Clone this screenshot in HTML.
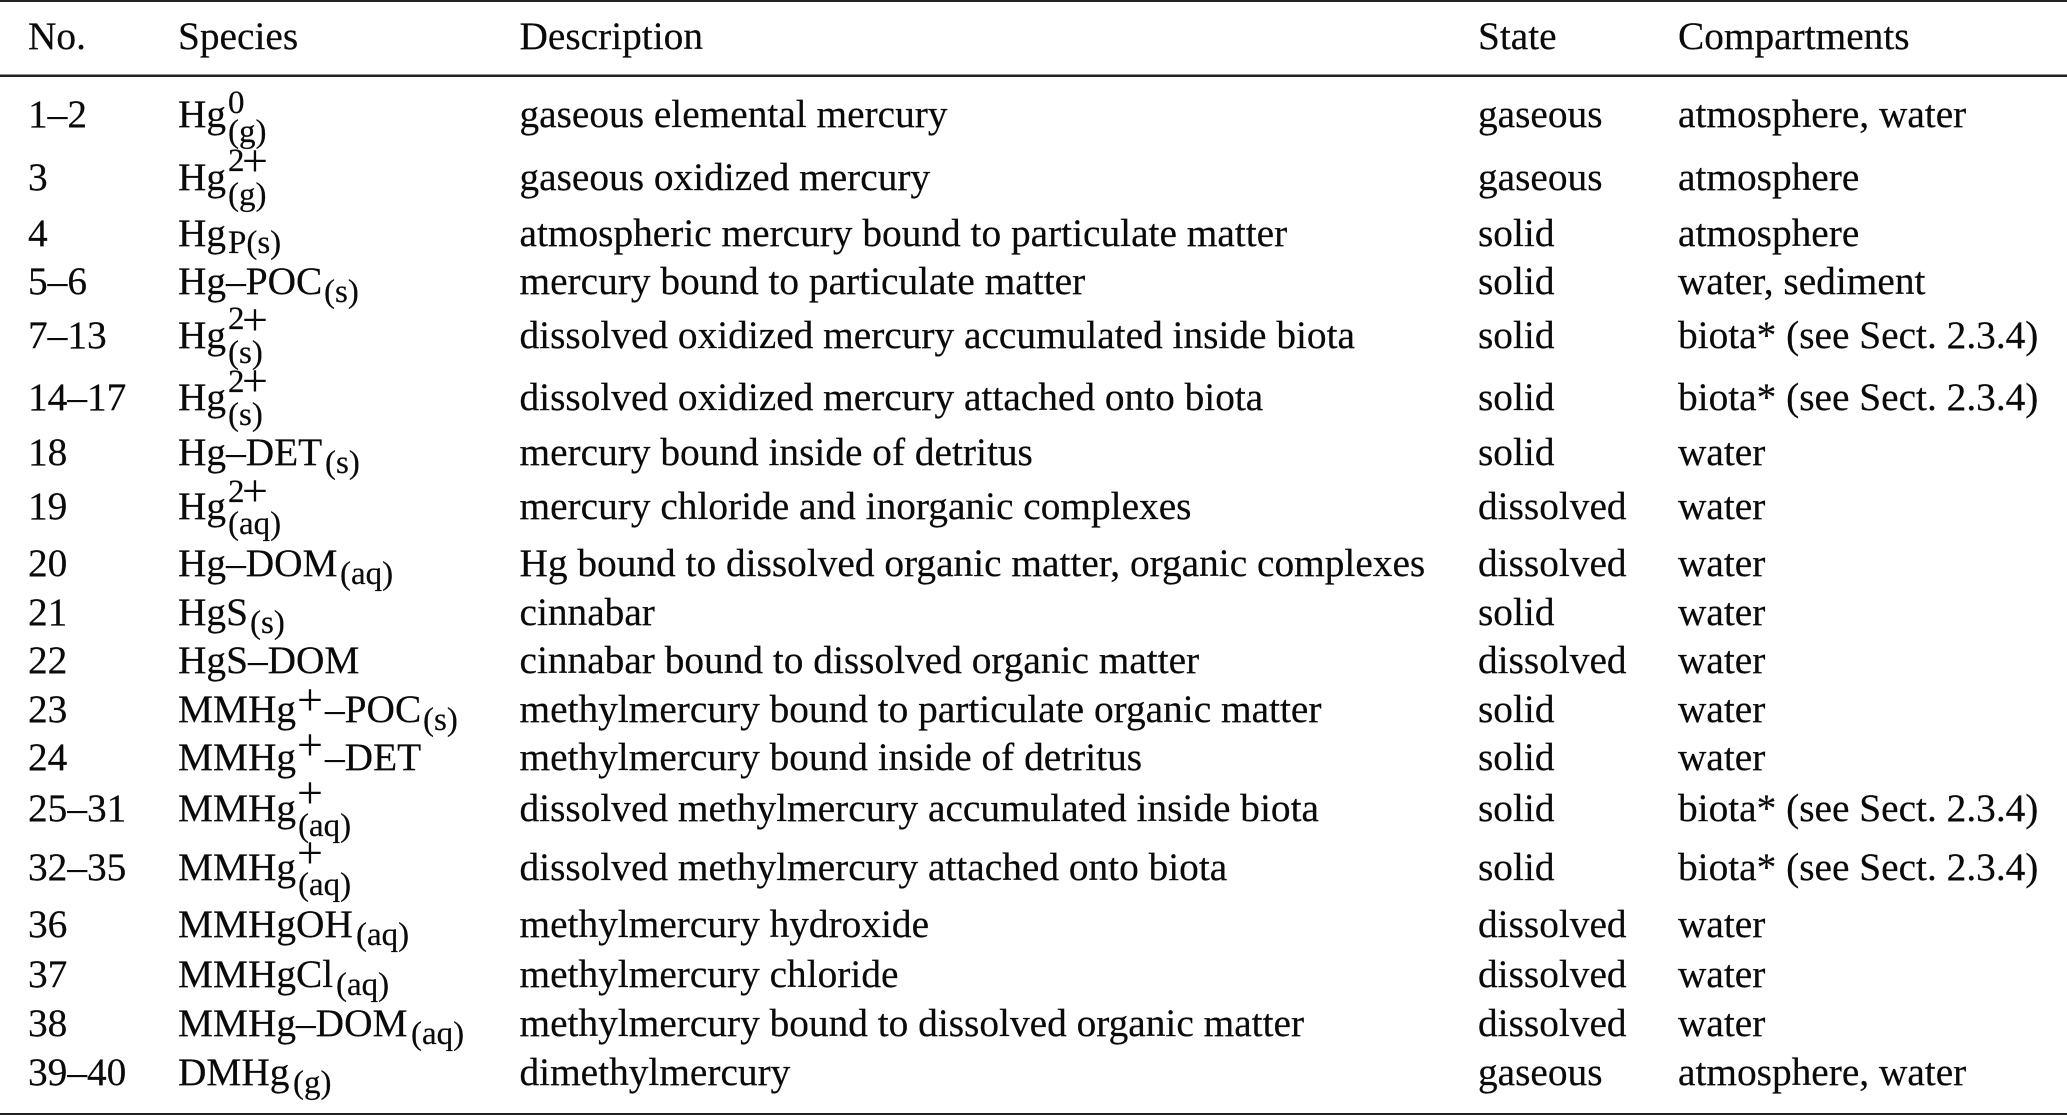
<!DOCTYPE html>
<html><head><meta charset="utf-8"><style>
html,body{margin:0;padding:0;background:#fff;width:2067px;height:1115px;overflow:hidden}
svg{display:block}
text{font-family:"Liberation Serif",serif;font-size:39.35px;fill:#0a0a0a;stroke:#0a0a0a;stroke-width:.2;white-space:pre}
.s{font-size:33px}
.p{font-size:46px;stroke-width:0}
</style></head><body>
<svg width="2067" height="1115" viewBox="0 0 2067 1115" xmlns="http://www.w3.org/2000/svg">
<rect x="0" y="0" width="2067" height="2" fill="#222"/>
<rect x="0" y="74.5" width="2067" height="2.5" fill="#222"/>
<rect x="0" y="1113" width="2067" height="2" fill="#222"/>

<text x="28" y="49">No.</text><text x="178" y="49">Species</text><text x="519.5" y="49">Description</text><text x="1478" y="49">State</text><text x="1678" y="49">Compartments</text>

<text x="28" y="127">1–2</text><text x="178" y="127">Hg</text><text class="s" x="228" y="113">0</text><text class="s" x="228" y="142">(g)</text><text x="519.5" y="127">gaseous elemental mercury</text><text x="1478" y="127">gaseous</text><text x="1678" y="127">atmosphere, water</text>

<text x="28" y="190">3</text><text x="178" y="190">Hg</text><text class="s" x="228" y="171">2</text><text class="p" x="242" y="176">+</text><text class="s" x="228" y="205">(g)</text><text x="519.5" y="190">gaseous oxidized mercury</text><text x="1478" y="190">gaseous</text><text x="1678" y="190">atmosphere</text>

<text x="28" y="246">4</text><text x="178" y="246">Hg</text><text class="s" x="228" y="253">P(s)</text><text x="519.5" y="246">atmospheric mercury bound to particulate matter</text><text x="1478" y="246">solid</text><text x="1678" y="246">atmosphere</text>

<text x="28" y="294">5–6</text><text x="178" y="294">Hg–POC</text><text class="s" x="324" y="302">(s)</text><text x="519.5" y="294">mercury bound to particulate matter</text><text x="1478" y="294">solid</text><text x="1678" y="294">water, sediment</text>

<text x="28" y="348">7–13</text><text x="178" y="348">Hg</text><text class="s" x="228" y="329">2</text><text class="p" x="242" y="335">+</text><text class="s" x="228" y="363">(s)</text><text x="519.5" y="348">dissolved oxidized mercury accumulated inside biota</text><text x="1478" y="348">solid</text><text x="1678" y="348">biota* (see Sect. 2.3.4)</text>

<text x="28" y="410">14–17</text><text x="178" y="410">Hg</text><text class="s" x="228" y="392">2</text><text class="p" x="242" y="396">+</text><text class="s" x="228" y="425">(s)</text><text x="519.5" y="410">dissolved oxidized mercury attached onto biota</text><text x="1478" y="410">solid</text><text x="1678" y="410">biota* (see Sect. 2.3.4)</text>

<text x="28" y="465">18</text><text x="178" y="465">Hg–DET</text><text class="s" x="325" y="473">(s)</text><text x="519.5" y="465">mercury bound inside of detritus</text><text x="1478" y="465">solid</text><text x="1678" y="465">water</text>

<text x="28" y="519">19</text><text x="178" y="519">Hg</text><text class="s" x="228" y="502">2</text><text class="p" x="242" y="506">+</text><text class="s" x="228" y="534">(aq)</text><text x="519.5" y="519">mercury chloride and inorganic complexes</text><text x="1478" y="519">dissolved</text><text x="1678" y="519">water</text>

<text x="28" y="576">20</text><text x="178" y="576">Hg–DOM</text><text class="s" x="340" y="584">(aq)</text><text x="519.5" y="576">Hg bound to dissolved organic matter, organic complexes</text><text x="1478" y="576">dissolved</text><text x="1678" y="576">water</text>

<text x="28" y="625">21</text><text x="178" y="625">HgS</text><text class="s" x="250" y="633">(s)</text><text x="519.5" y="625">cinnabar</text><text x="1478" y="625">solid</text><text x="1678" y="625">water</text>

<text x="28" y="673">22</text><text x="178" y="673">HgS–DOM</text><text x="519.5" y="673">cinnabar bound to dissolved organic matter</text><text x="1478" y="673">dissolved</text><text x="1678" y="673">water</text>

<text x="28" y="722">23</text><text x="178" y="722">MMHg</text><text class="p" x="297" y="715">+</text><text x="325" y="722">–POC</text><text class="s" x="423" y="730">(s)</text><text x="519.5" y="722">methylmercury bound to particulate organic matter</text><text x="1478" y="722">solid</text><text x="1678" y="722">water</text>

<text x="28" y="770">24</text><text x="178" y="770">MMHg</text><text class="p" x="297" y="760">+</text><text x="325" y="770">–DET</text><text x="519.5" y="770">methylmercury bound inside of detritus</text><text x="1478" y="770">solid</text><text x="1678" y="770">water</text>

<text x="28" y="821">25–31</text><text x="178" y="821">MMHg</text><text class="p" x="297" y="808">+</text><text class="s" x="298" y="836">(aq)</text><text x="519.5" y="821">dissolved methylmercury accumulated inside biota</text><text x="1478" y="821">solid</text><text x="1678" y="821">biota* (see Sect. 2.3.4)</text>

<text x="28" y="880">32–35</text><text x="178" y="880">MMHg</text><text class="p" x="297" y="868">+</text><text class="s" x="298" y="895">(aq)</text><text x="519.5" y="880">dissolved methylmercury attached onto biota</text><text x="1478" y="880">solid</text><text x="1678" y="880">biota* (see Sect. 2.3.4)</text>

<text x="28" y="937">36</text><text x="178" y="937">MMHgOH</text><text class="s" x="356" y="945">(aq)</text><text x="519.5" y="937">methylmercury hydroxide</text><text x="1478" y="937">dissolved</text><text x="1678" y="937">water</text>

<text x="28" y="987">37</text><text x="178" y="987">MMHgCl</text><text class="s" x="336" y="995">(aq)</text><text x="519.5" y="987">methylmercury chloride</text><text x="1478" y="987">dissolved</text><text x="1678" y="987">water</text>

<text x="28" y="1036">38</text><text x="178" y="1036">MMHg–DOM</text><text class="s" x="411" y="1044">(aq)</text><text x="519.5" y="1036">methylmercury bound to dissolved organic matter</text><text x="1478" y="1036">dissolved</text><text x="1678" y="1036">water</text>

<text x="28" y="1085">39–40</text><text x="178" y="1085">DMHg</text><text class="s" x="293" y="1093">(g)</text><text x="519.5" y="1085">dimethylmercury</text><text x="1478" y="1085">gaseous</text><text x="1678" y="1085">atmosphere, water</text>
</svg>
</body></html>
